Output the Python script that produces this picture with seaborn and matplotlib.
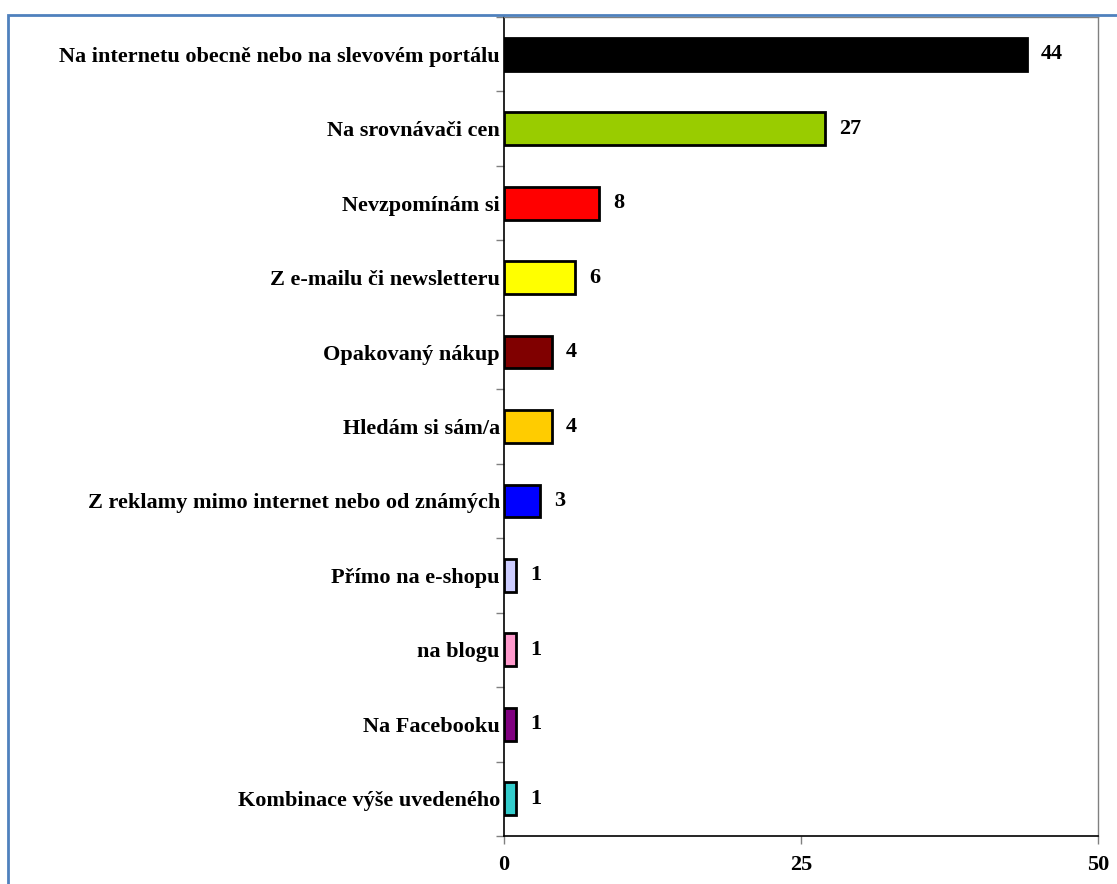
import matplotlib
matplotlib.use("Agg")
import matplotlib.pyplot as plt
import seaborn as sns
import pandas as pd
from matplotlib.patches import Rectangle

categories = [
    "Na internetu obecně nebo na slevovém portálu",
    "Na srovnávači cen",
    "Nevzpomínám si",
    "Z e-mailu či newsletteru",
    "Opakovaný nákup",
    "Hledám si sám/a",
    "Z reklamy mimo internet nebo od známých",
    "Přímo na e-shopu",
    "na blogu",
    "Na Facebooku",
    "Kombinace výše uvedeného",
]
values = [44, 27, 8, 6, 4, 4, 3, 1, 1, 1, 1]
colors = ["#000000", "#99CC00", "#FF0000", "#FFFF00", "#800000", "#FFCC00",
          "#0000FF", "#CCCCFF", "#FF99CC", "#800080", "#33CCCC"]
x_ticks = [0, 25, 50]

sns.set_style("white")
plt.rcParams['font.family'] = ['Liberation Serif', 'DejaVu Serif']
plt.rcParams['text.color'] = 'black'
plt.rcParams['xtick.labelcolor'] = 'black'
plt.rcParams['ytick.labelcolor'] = 'black'

df = pd.DataFrame({"cat": categories, "val": values})

W, H = 1117, 884
fig = plt.figure(figsize=(W / 100, H / 100), dpi=100)
ax = fig.add_axes([504 / W, 1 - 836 / H, (1098 - 504) / W, (836 - 17) / H])

sns.barplot(data=df, x="val", y="cat", hue="cat", palette=colors, legend=False,
            orient="h", ax=ax, width=0.44, edgecolor="black", linewidth=2,
            saturation=1)

ax.set_xlim(0, 50)
ax.set_ylim(len(categories) - 0.5, -0.5)
ax.set_xticks(x_ticks)
ax.set_xticklabels([str(t) for t in x_ticks], fontsize=16, fontweight="bold", color="black")
ax.set_xlabel("")
ax.set_ylabel("")

ax.set_yticks(range(len(categories)))
ax.set_yticklabels(categories, fontsize=16, fontweight="bold", color="black")
ax.tick_params(axis="y", which="major", length=0, pad=3)
ax.set_yticks([i - 0.5 for i in range(len(categories) + 1)], minor=True)
ax.tick_params(axis="y", which="minor", length=6, width=1, color="#808080", direction="out", left=True)
ax.tick_params(axis="x", length=6, width=1, color="#808080", direction="out", bottom=True, pad=8)

for s in ["left", "bottom"]:
    ax.spines[s].set_color("black")
    ax.spines[s].set_linewidth(1.2)
for s in ["top", "right"]:
    ax.spines[s].set_color("#808080")
    ax.spines[s].set_linewidth(1)

for i, v in enumerate(values):
    ax.text(v + 1.2, i, str(v), va="center", ha="left", fontsize=16, fontweight="bold", color="black")

fig.patches.append(Rectangle((8 / W, -0.1), 1.2, 1 - 15 / H + 0.1, transform=fig.transFigure,
                             fill=False, edgecolor="#4F81BD", linewidth=2, zorder=0))

fig.savefig("out.png", dpi=100)
